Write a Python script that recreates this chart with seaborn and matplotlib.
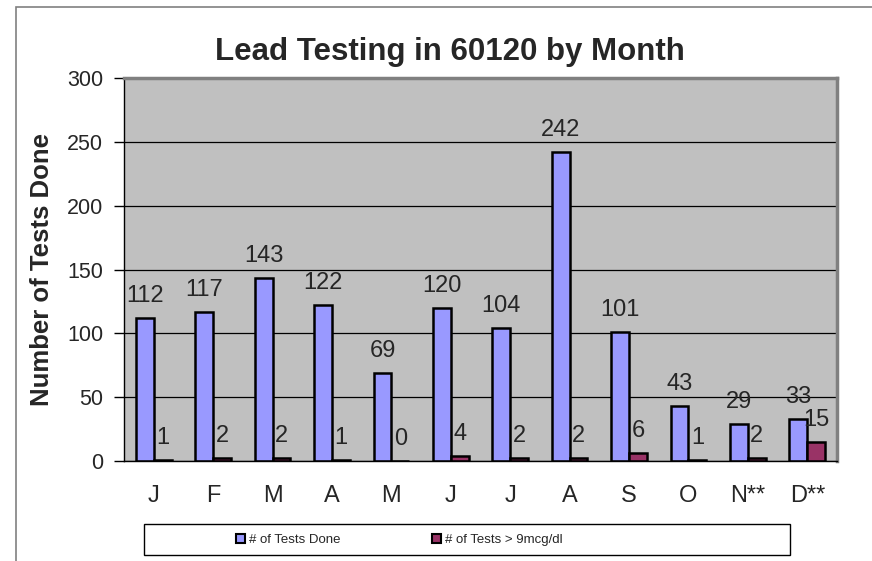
import numpy as np
import matplotlib.pyplot as plt
import matplotlib.patches as mpatches
import pandas as pd
import seaborn as sns

months = ['J', 'F', 'M', 'A', 'M', 'J', 'J', 'A', 'S', 'O', 'N**', 'D**']
tests_done = [112, 117, 143, 122, 69, 120, 104, 242, 101, 43, 29, 33]
tests_high = [1, 2, 2, 1, 0, 4, 2, 2, 6, 1, 2, 15]
series = ['# of Tests Done', '# of Tests > 9mcg/dl']
colors = ['#9999FF', '#993366']

# long form table for seaborn
month_ids = list(range(len(months)))
data = pd.DataFrame({
    'month': month_ids * 2,
    'count': tests_done + tests_high,
    'series': [series[0]] * len(months) + [series[1]] * len(months),
})

sns.set_style('white')
plt.rcParams['font.family'] = ['Liberation Sans', 'DejaVu Sans']

fig = plt.figure(figsize=(8.72, 5.61), dpi=100)
ax = fig.add_axes([124 / 872, 100 / 561, (837 - 124) / 872, (461 - 78) / 561])

sns.barplot(data=data, x='month', y='count', hue='series', palette=colors,
            width=0.6, gap=0, edgecolor='black', linewidth=1.8,
            saturation=1, ax=ax, legend=False)

ax.set_facecolor('#C0C0C0')
ax.set_ylim(0, 300)
ax.set_xlim(-0.5, len(months) - 0.5)
ax.set_yticks(np.arange(0, 301, 50))
ax.yaxis.grid(True, color='black', linewidth=0.9)
ax.set_axisbelow(True)

for c in ax.containers:
    ax.bar_label(c, padding=8, fontsize=17)

ax.set_xticks(month_ids)
ax.set_xticklabels(months, fontsize=17)
ax.set_xticks(np.arange(-0.5, len(months), 1), minor=True)
ax.tick_params(axis='x', which='major', length=0, pad=17)
ax.tick_params(axis='x', which='minor', length=6, width=1, color='black', direction='out')
ax.tick_params(axis='y', labelsize=15.5, length=7, width=1, color='black',
               direction='out', left=True, pad=8)

for side in ['left', 'bottom']:
    ax.spines[side].set_color('black')
    ax.spines[side].set_linewidth(1)
for side in ['top', 'right']:
    ax.spines[side].set_color('#808080')
    ax.spines[side].set_linewidth(2.5)

ax.set_xlabel('')
ax.set_ylabel('Number of Tests Done', fontsize=18.5, fontweight='bold', labelpad=9)
fig.suptitle('Lead Testing in 60120 by Month', fontsize=22.5, fontweight='bold',
             x=450 / 872, y=1 - 60 / 561, va='baseline')

# outer chart border (cropped off at right and bottom)
fig.patches.append(mpatches.Rectangle((16 / 872, -0.1), 1.0, (561 - 7) / 561 + 0.1,
                                      transform=fig.transFigure, fill=False,
                                      edgecolor='#808080', linewidth=1.2))

# legend box
fig.patches.append(mpatches.Rectangle((144 / 872, 1 - 555 / 561), (790 - 144) / 872, 31 / 561,
                                      transform=fig.transFigure, facecolor='white',
                                      edgecolor='black', linewidth=1))
handles = [mpatches.Patch(facecolor=colors[i], edgecolor='black', linewidth=1.5, label=series[i])
           for i in range(2)]
fig.legend(handles=handles, loc='center left', bbox_to_anchor=(236 / 872, 1 - 540 / 561),
           ncol=2, frameon=False, fontsize=9.5, handlelength=0.7, handleheight=0.7,
           handletextpad=0.3, columnspacing=6.9, borderpad=0, borderaxespad=0)

fig.savefig('out.png', dpi=100)
